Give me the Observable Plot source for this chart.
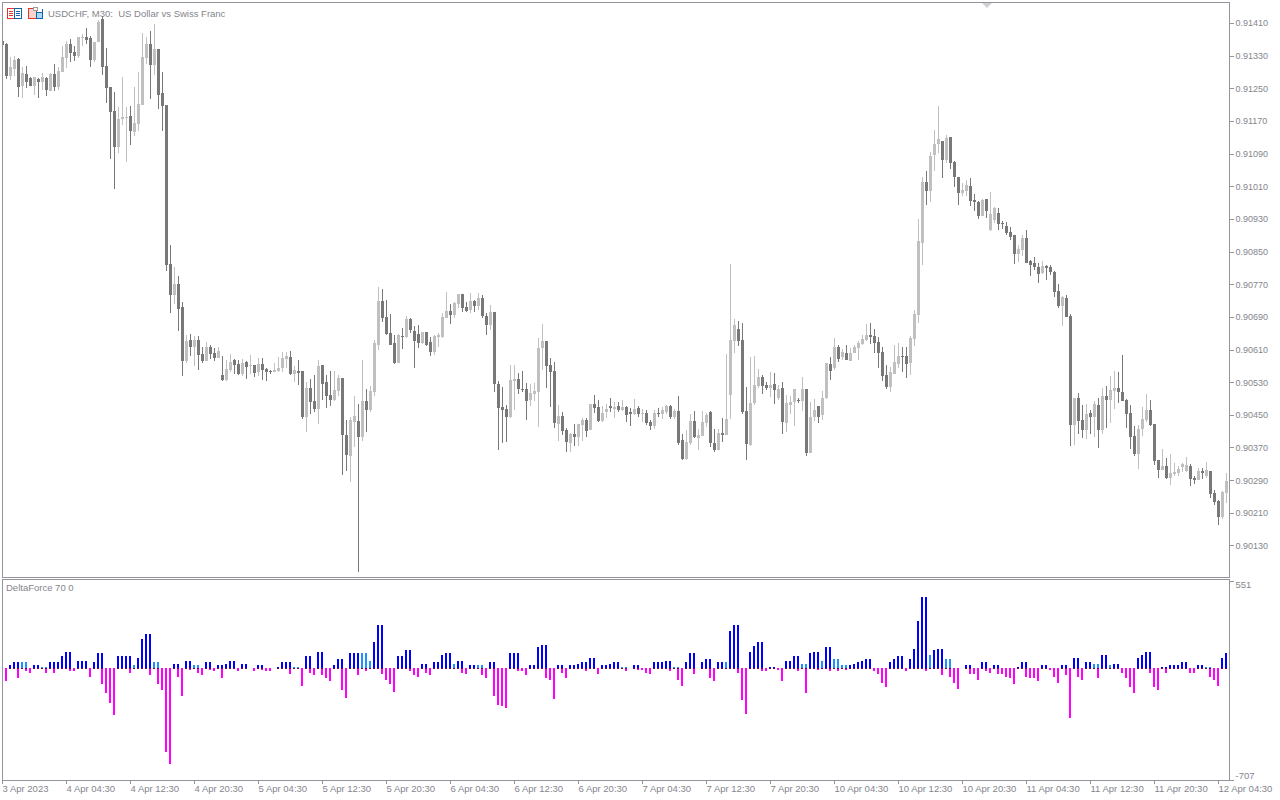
<!DOCTYPE html>
<html>
<head>
<meta charset="utf-8">
<script src="https://cdn.jsdelivr.net/npm/d3@7"></script>
<script src="https://cdn.jsdelivr.net/npm/@observablehq/plot@0.6"></script>
<style>
html,body{margin:0;padding:0;background:#fff;}
#wrap{position:relative;width:1280px;height:800px;overflow:hidden;font-family:"DejaVu Sans",sans-serif;}
#wrap svg{position:absolute;left:0;display:block;}
.lbl{position:absolute;color:#85858d;font:9.5px/12px "Liberation Sans",sans-serif;white-space:pre;}
</style>
</head>
<body>
<div id="wrap"></div>
<script>
// Prices are in points above 0.90000 (1 point = 0.00001)
const dir = ("DDLLDLDDLD LDLDLLLDDL LDDLLDDDDL LLDLLLLDLD DDDLDDLDLD DLDDLDLLDD LDLDLDDDLL LLDLDDLDDL DDDLLDDLLD LDLLLDDDDL " +
"DLDDDLDDLL LLDLLDDLDL DDLDDDDLLD DDLLLLDDDL DDLDLLDLDD LLDLDLDDLD LDDLDLLDLD DLLDLLLDDL DLLLDDDLLL DDLDLDLLLD " +
"LDLLDLLDLD LDLLLLLDDD DDLLLDDLLL LDLLLDLDDD LLDDDLDLLD DDDDLLDDDD LDDDDLDDLD DLDLDLDLLD DDDDLLLDDD LDLLLLLDDL DLDDDLL").replace(/ /g, "");
const high = [
1366,1360,1327,1329,1324,1302,1305,1277,1277,1275,
1287,1277,1287,1309,1302,1353,1366,1371,1353,1375,
1383,1397,1378,1363,1417,1427,1348,1253,1241,1204,
1277,1204,1206,1253,1290,1385,1375,1390,1407,1346,
1290,1209,866,812,790,726,646,648,643,643,
616,628,621,614,616,594,584,599,587,584,
587,582,596,572,589,589,565,560,577,592,
604,604,606,570,584,557,530,538,548,584,
572,548,557,557,548,540,437,445,496,477,
584,513,521,633,763,758,731,697,646,648,
663,692,687,668,670,653,653,641,646,650,
699,751,721,726,746,746,726,748,731,748,
743,699,719,702,533,518,474,572,572,552,
557,528,526,528,638,672,631,589,579,474,
457,418,405,427,427,442,442,476,498,486,
472,476,491,481,481,486,472,467,489,472,
464,462,437,462,467,469,474,474,464,496,
403,413,452,459,415,459,454,459,415,415,
442,599,820,685,680,675,518,592,594,562,
548,530,555,552,523,530,499,496,513,491,
543,513,481,489,472,508,577,592,638,621,
611,621,614,621,631,645,672,675,660,641,
616,572,567,621,626,616,616,643,707,930,
1033,1047,1094,1148,1207,1121,1136,1131,1072,1033,
1018,1025,1030,991,974,979,979,996,959,957,
925,922,910,891,866,891,903,829,837,822,
827,817,817,802,770,741,744,697,491,503,
474,476,462,484,491,516,521,545,557,555,
597,489,474,423,425,469,501,486,428,339,
366,344,354,332,325,332,347,329,300,320,
320,334,312,266,241,263,307];
const bodyTop = [
1366,1359,1302,1319,1322,1287,1285,1275,1277,1273,
1277,1275,1285,1285,1292,1327,1359,1359,1339,1375,
1375,1375,1373,1363,1412,1419,1304,1253,1194,1174,
1179,1179,1182,1165,1211,1327,1358,1358,1346,1346,
1238,1209,819,770,770,714,631,633,633,633,
599,616,616,601,606,548,562,579,584,574,
577,579,572,572,574,574,562,557,560,565,
589,594,592,560,557,557,516,516,484,570,
572,530,499,511,540,540,401,437,447,435,
484,484,508,626,729,729,690,650,626,646,
643,685,685,655,648,653,653,628,643,646,
690,704,704,724,746,746,714,729,729,736,
736,692,702,702,526,469,464,535,538,538,
513,513,504,508,614,631,631,572,557,447,
447,413,403,403,427,437,437,476,476,469,
454,464,472,469,472,469,469,457,464,467,
454,454,432,454,454,462,472,472,459,459,
388,383,435,435,401,432,450,457,381,405,
405,440,633,670,660,633,459,479,523,543,
543,523,523,525,513,516,479,481,513,486,
513,513,445,462,472,491,577,575,616,616,
604,601,601,616,626,636,646,646,643,628,
604,548,555,579,594,594,594,638,697,876,
1020,1020,1084,1114,1126,1121,1128,1131,1069,1033,
1001,1013,1011,976,971,976,979,942,957,944,
920,913,898,891,856,883,883,827,822,812,
815,815,812,800,753,739,736,692,491,491,
437,452,454,476,474,496,496,511,516,516,
506,486,454,398,415,440,462,462,428,339,
325,325,307,310,317,329,327,325,295,312,
312,315,312,258,239,261,288];
const bodyBottom = [
1356,1280,1280,1297,1253,1256,1265,1256,1256,1265,
1265,1246,1243,1253,1253,1290,1324,1336,1329,1329,
1373,1368,1319,1319,1363,1302,1250,1192,1106,1106,
1174,1177,1145,1143,1162,1209,1324,1307,1307,1233,
1206,817,744,744,709,582,582,616,616,597,
582,582,599,589,589,535,535,560,572,550,
550,567,570,552,555,560,555,555,555,557,
565,587,550,550,552,445,445,481,464,464,
526,496,486,486,508,400,352,349,432,396,
396,462,462,506,621,687,648,621,577,577,
641,641,658,631,626,626,621,604,604,641,
641,687,695,695,722,712,704,707,717,717,
692,670,670,526,467,462,445,445,533,513,
511,484,486,501,506,614,570,555,430,427,
410,383,381,396,396,425,410,413,467,435,
435,457,467,464,462,462,450,452,452,452,
452,430,423,423,452,452,457,445,445,381,
342,342,381,396,393,398,430,381,364,364,
401,401,499,631,631,457,378,376,479,521,
521,516,516,511,491,432,430,474,481,484,
484,356,356,445,445,450,491,557,565,587,
592,584,582,601,614,624,633,641,626,601,
545,518,518,550,575,592,575,577,636,695,
871,998,998,1087,1114,1074,1074,1067,1033,993,
993,998,974,971,937,937,949,903,927,917,
917,895,886,844,844,854,822,817,812,795,
797,810,800,751,717,717,690,425,425,435,
413,413,445,445,413,413,486,486,508,506,
484,452,396,354,354,415,437,425,337,315,
315,295,295,305,307,322,312,293,290,290,
307,300,256,236,200,200,258];
const low = [
1356,1273,1270,1280,1229,1226,1251,1256,1233,1226,
1246,1231,1243,1243,1246,1290,1299,1314,1317,1324,
1353,1359,1302,1314,1363,1282,1214,1076,1003,1091,
1160,1069,1111,1133,1145,1209,1309,1223,1282,1199,
1145,802,699,722,655,545,577,594,570,560,
577,582,587,582,589,533,533,555,550,548,
545,538,550,543,545,535,533,550,555,555,
555,565,548,530,523,440,408,452,457,427,
486,467,472,484,497,302,312,285,371,65,
386,408,457,496,609,677,646,621,574,577,
611,638,650,565,614,624,619,594,597,616,
638,687,673,687,712,702,702,699,702,707,
687,646,658,506,364,381,383,442,462,501,
506,437,472,484,420,560,516,469,418,386,
400,359,359,374,374,386,396,413,454,432,
432,442,457,442,457,459,432,423,450,445,
432,425,413,415,445,440,452,440,440,376,
339,340,376,393,364,398,420,371,359,364,
383,401,440,602,619,452,339,374,474,516,
501,511,494,477,486,403,408,452,423,479,
459,349,356,435,430,437,489,535,560,579,
584,584,582,601,584,621,631,624,601,565,
533,513,506,550,565,555,540,548,619,675,
817,964,971,1047,1091,1030,1067,1052,1008,964,
986,986,962,949,930,937,932,900,920,903,
905,891,878,820,824,839,822,790,805,773,
795,780,792,739,712,668,690,374,376,403,
393,391,403,396,369,403,418,430,464,479,
484,418,366,349,317,398,432,423,327,295,
315,293,278,300,300,310,310,276,281,290,
293,295,246,229,180,195,234];
const priceTicks = [1410,1330,1250,1170,1090,1010,930,850,770,690,610,530,450,370,290,210,130];
// DeltaForce 70 0 histogram
const deltaUp = [
0,0,21,40,40,34,34,0,21,21,
8,8,40,40,40,72,103,103,0,46,
46,46,0,40,91,91,0,0,0,72,
72,72,72,21,65,185,217,217,40,40,
0,0,0,27,27,0,46,46,15,15,
0,34,34,0,21,21,27,46,46,0,
27,27,0,0,21,21,0,0,0,8,
34,34,34,8,8,0,72,72,0,103,
103,0,0,21,53,53,0,91,97,97,
91,91,46,166,268,268,0,0,0,72,
72,110,110,0,0,27,27,0,40,40,
84,97,97,27,46,46,0,21,21,21,
21,0,34,34,0,0,0,91,91,91,
0,0,21,21,129,147,147,0,0,15,
15,0,21,21,27,40,40,65,65,0,
21,21,27,34,34,8,8,0,15,15,
0,0,0,34,34,40,46,46,8,8,
0,40,91,91,0,40,53,53,0,40,
40,40,230,268,268,0,0,103,141,166,
166,0,8,8,0,0,46,46,78,78,
27,27,91,103,103,46,135,135,59,59,
15,15,15,27,40,46,59,59,0,0,
0,0,34,59,78,78,0,59,122,299,
451,451,84,116,122,122,53,53,0,0,
0,15,15,0,0,40,40,0,15,15,
0,0,0,0,8,40,40,0,0,0,
21,21,0,0,0,21,21,0,65,65,
0,40,40,27,27,84,84,21,27,27,
0,0,0,0,65,84,103,103,0,0,
8,8,15,15,21,34,34,0,0,21,
21,8,8,0,0,65,91];
const deltaDown = [
0,80,0,0,61,0,17,30,0,4,
0,30,0,30,0,0,0,17,23,0,
0,4,55,0,0,105,156,219,301,0,
0,0,30,0,0,0,0,48,0,105,
137,529,605,0,55,181,0,11,0,30,
48,0,11,23,0,67,0,0,0,23,
0,0,4,17,0,11,17,17,4,0,
0,0,36,0,0,112,0,30,48,0,
42,67,80,0,0,137,188,0,0,48,
0,17,0,0,0,36,74,99,150,0,
0,0,23,48,55,0,30,48,0,0,
0,0,0,0,0,30,36,0,6,0,
42,61,0,175,232,238,251,0,0,17,
23,48,0,0,0,0,61,74,200,0,
30,61,0,0,0,0,23,0,0,36,
0,0,0,0,0,4,17,4,0,11,
11,30,36,0,0,0,0,23,0,74,
112,0,0,36,4,0,0,67,80,0,
0,0,0,0,30,206,289,0,0,0,
17,23,0,4,11,86,0,0,0,23,
0,156,0,0,11,0,0,17,0,23,
4,11,0,0,0,0,0,4,17,36,
93,124,0,0,0,4,17,0,0,0,
0,17,0,0,0,48,0,55,93,131,
4,0,36,36,74,0,23,30,0,36,
36,55,67,105,0,0,55,61,67,80,
0,4,11,55,93,0,42,314,0,55,
74,0,0,0,61,0,4,0,0,0,
30,61,118,156,0,0,0,30,118,143,
0,30,0,0,0,0,4,30,30,0,
0,0,55,74,112,0,0];
const weakUp = [5,6,10,11,33,38,39,48,49,73,74,90,91,92,113,119,120,155,156,168,169,181,200,201,205,208,209,210,211,232,236,237,273,274,277,301,302];
const timeLabels = ["3 Apr 2023","4 Apr 04:30","4 Apr 12:30","4 Apr 20:30","5 Apr 04:30","5 Apr 12:30","5 Apr 20:30","6 Apr 04:30","6 Apr 12:30","6 Apr 20:30","7 Apr 04:30","7 Apr 12:30","7 Apr 20:30","10 Apr 04:30","10 Apr 12:30","10 Apr 20:30","11 Apr 04:30","11 Apr 12:30","11 Apr 20:30","12 Apr 04:30"];

const lens = [dir.length, high.length, bodyTop.length, bodyBottom.length, low.length, deltaUp.length, deltaDown.length];
if (lens.some(n => n !== 307)) throw new Error("length mismatch " + lens.join(","));

const FRAME = "#94949c", TEXT = "#85858d", DARK = "#787878", LIGHT = "#c0c0c0";
const AXF = '"Liberation Sans",sans-serif';
const bars = d3.range(307).map(i => ({
  i, high: high[i], low: low[i], top: bodyTop[i], bottom: bodyBottom[i],
  color: dir[i] === "D" ? DARK : LIGHT,
  up: deltaUp[i], down: deltaDown[i], weak: weakUp.includes(i)
}));
const xScale = {domain: [0, 306], range: [2.5, 1226.5], axis: null};

const main = Plot.plot({
  width: 1280, height: 578, marginLeft: 2, marginRight: 51, marginTop: 2, marginBottom: 1,
  style: {background: "transparent", color: TEXT, fontFamily: AXF, fontSize: "9px", overflow: "visible"},
  color: {type: "identity"},
  x: xScale,
  y: {domain: [1466.35, -493.65], range: [0, 800], axis: null},
  marks: [
    Plot.ruleX(bars, {x: "i", y1: "low", y2: "high", stroke: "color", strokeWidth: 1, dx: -0.5, clip: true, shapeRendering: "crispEdges"}),
    Plot.rect(bars, {x1: d => d.i - 0.375, x2: d => d.i + 0.375, y1: "bottom", y2: "top", fill: "color", clip: true, shapeRendering: "crispEdges"}),
    Plot.frame({stroke: FRAME, shapeRendering: "crispEdges"}),
    Plot.axisY({anchor: "right", label: null, ticks: priceTicks, tickSize: 4, tickPadding: 2, tickFormat: p => (0.9 + p / 1e5).toFixed(5), stroke: FRAME, fill: TEXT, shapeRendering: "crispEdges"})
  ]
});
main.style.top = "0px";

const sub = Plot.plot({
  width: 1280, height: 222, marginLeft: 2, marginRight: 51, marginTop: 1, marginBottom: 20,
  style: {background: "transparent", color: TEXT, fontFamily: AXF, fontSize: "9.5px", overflow: "visible"},
  color: {type: "identity"},
  x: xScale,
  y: {domain: [551, -707], range: [2.7, 201.7], axis: null, label: null},
  marks: [
    Plot.rect(bars.filter(d => d.up > 0), {x1: d => d.i - 0.375, x2: d => d.i + 0.125, y1: 0, y2: "up", fill: d => d.weak ? "#1e90ff" : "#0000ff", shapeRendering: "crispEdges"}),
    Plot.rect(bars.filter(d => d.down > 0), {x1: d => d.i - 0.375, x2: d => d.i + 0.125, y1: 0, y2: d => -d.down, fill: "#ff00ff", shapeRendering: "crispEdges"}),
    Plot.rect(bars.filter(d => d.up > 0), {x1: d => d.i - 0.375, x2: d => d.i + 0.125, y1: 0, y2: -6.3, fill: "#80004f", shapeRendering: "crispEdges"}),
    Plot.frame({stroke: FRAME, shapeRendering: "crispEdges"}),
    Plot.axisY({anchor: "right", label: null, ticks: [551, -707], tickSize: 4, tickFormat: () => "", stroke: FRAME, shapeRendering: "crispEdges"}),
    Plot.text([551], {y: d => d, frameAnchor: "right", dx: 6, dy: 3.5, text: d => String(d), textAnchor: "start", fill: TEXT}),
    Plot.text([-707], {y: d => d, frameAnchor: "right", dx: 6, dy: -4.5, text: d => String(d), textAnchor: "start", fill: TEXT}),
    Plot.axisX({anchor: "bottom", label: null, ticks: d3.range(0, 307, 16), tickSize: 4, tickPadding: 1, dx: -0.5, textAnchor: "start", tickFormat: i => timeLabels[i / 16], stroke: FRAME, fill: TEXT, shapeRendering: "crispEdges"})
  ]
});
sub.style.top = "578px";

const wrap = document.getElementById("wrap");
wrap.append(main, sub);

// window furniture: chart-type icons, scroll marker and captions
const overlay = document.createElementNS("http://www.w3.org/2000/svg", "svg");
overlay.setAttribute("width", 1280);
overlay.setAttribute("height", 30);
overlay.style.top = "0px";
overlay.innerHTML = `
<g fill="none" shape-rendering="crispEdges">
  <rect x="7.5" y="8.5" width="7" height="10" stroke="#e2342c"/><rect x="14.5" y="8.5" width="7" height="10" stroke="#1462a8"/>
  <path d="M9 11.5h4M9 13.5h4M9 15.5h4" stroke="#e2342c"/><path d="M16 11.5h4M16 13.5h4M16 15.5h4" stroke="#1462a8"/>
  <path d="M28.5 8.5h6v2h2v8h-8z" fill="#fbd5cc" stroke="#e2342c"/>
  <path d="M36.5 12.5h6v-4h0v10h-6z" fill="#a8d8f4" stroke="#1462a8"/>
  <rect x="33.5" y="7.5" width="4" height="3" fill="#fff" stroke="#9a9aa0"/>
</g>
<path d="M982 3h10l-5 5z" fill="#cfcfd4"/>`;
wrap.append(overlay);

const t1 = document.createElement("div");
t1.className = "lbl"; t1.style.left = "48px"; t1.style.top = "8px";
t1.textContent = "USDCHF, M30:  US Dollar vs Swiss Franc";
const t2 = document.createElement("div");
t2.className = "lbl"; t2.style.left = "6px"; t2.style.top = "582px";
t2.textContent = "DeltaForce 70 0";
wrap.append(t1, t2);
</script>
</body>
</html>
